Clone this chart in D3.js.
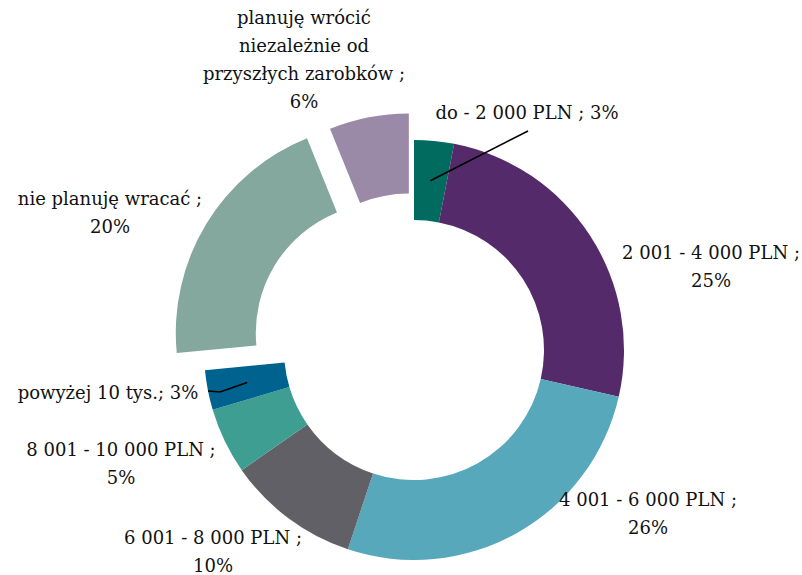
<!DOCTYPE html>
<html>
<head>
<meta charset="utf-8">
<script src="https://cdn.jsdelivr.net/npm/d3@7"></script>
<style>
  html, body { margin: 0; padding: 0; background: #fff; }
  svg text { font-family: "DejaVu Serif", serif; font-size: 18px; fill: #111; }
</style>
</head>
<body>
<svg id="chart" width="802" height="575"></svg>
<script>
// ---- data ----
const categories = [
  "do - 2 000 PLN",
  "2 001 - 4 000 PLN",
  "4 001 - 6 000 PLN",
  "6 001 - 8 000 PLN",
  "8 001 - 10 000 PLN",
  "powyżej 10 tys.",
  "nie planuję wracać",
  "planuję wrócić niezależnie od przyszłych zarobków"
];
const values = [3, 25, 26, 10, 5, 3, 20, 6];
const percentLabels = ["3%", "25%", "26%", "10%", "5%", "3%", "20%", "6%"];
const colors = ["#006B5E", "#552A6B", "#57A8BB", "#616066", "#3E9E91", "#00628E", "#84A79E", "#9A89A7"];

// ---- layout ----
const cx = 414, cy = 350, outerR = 210, innerR = 130;
const explode = [0, 0, 0, 0, 0, 0, 33, 27];
// label text lines and positions (layout only)
const labelLayout = [
  { lines: ["do - 2 000 PLN ; 3%"], x: 527, y: 113, leader: [[528, 131]] },
  { lines: ["2 001 - 4 000 PLN ;", "25%"], x: 711, y: 253 },
  { lines: ["4 001 - 6 000 PLN ;", "26%"], x: 648, y: 500 },
  { lines: ["6 001 - 8 000 PLN ;", "10%"], x: 213, y: 538 },
  { lines: ["8 001 - 10 000 PLN ;", "5%"], x: 121, y: 450 },
  { lines: ["powyżej 10 tys.; 3%"], x: 108, y: 393, leader: [[220, 392], [208, 391]] },
  { lines: ["nie planuję wracać ;", "20%"], x: 110, y: 199 },
  { lines: ["planuję wrócić", "niezależnie od", "przyszłych zarobków ;", "6%"], x: 304, y: 18 }
];
const lineH = 28;

const svg = d3.select("#chart");
const g = svg.append("g").attr("transform", `translate(${cx},${cy})`);

const pie = d3.pie().sort(null).value(d => d)(values);
const arc = d3.arc().innerRadius(innerR).outerRadius(outerR);

g.selectAll("path.slice")
  .data(pie)
  .join("path")
  .attr("class", "slice")
  .attr("fill", (d, i) => colors[i])
  .attr("transform", (d, i) => {
    const a = (d.startAngle + d.endAngle) / 2;
    return `translate(${Math.sin(a) * explode[i]},${-Math.cos(a) * explode[i]})`;
  })
  .attr("d", arc);

// leader lines
pie.forEach((d, i) => {
  const L = labelLayout[i];
  if (!L.leader) return;
  const c = arc.centroid(d);
  const pts = [[cx + c[0], cy + c[1]]].concat(L.leader);
  svg.append("path")
    .attr("d", d3.line()(pts))
    .attr("fill", "none")
    .attr("stroke", "#000")
    .attr("stroke-width", 1.6);
});

// labels
labelLayout.forEach((L, i) => {
  const t = svg.append("text")
    .attr("text-anchor", "middle")
    .attr("x", L.x)
    .attr("y", L.y);
  L.lines.forEach((s, j) => {
    t.append("tspan")
      .attr("x", L.x)
      .attr("y", L.y + j * lineH)
      .attr("dy", "0.35em")
      .text(s);
  });
});
</script>
</body>
</html>
